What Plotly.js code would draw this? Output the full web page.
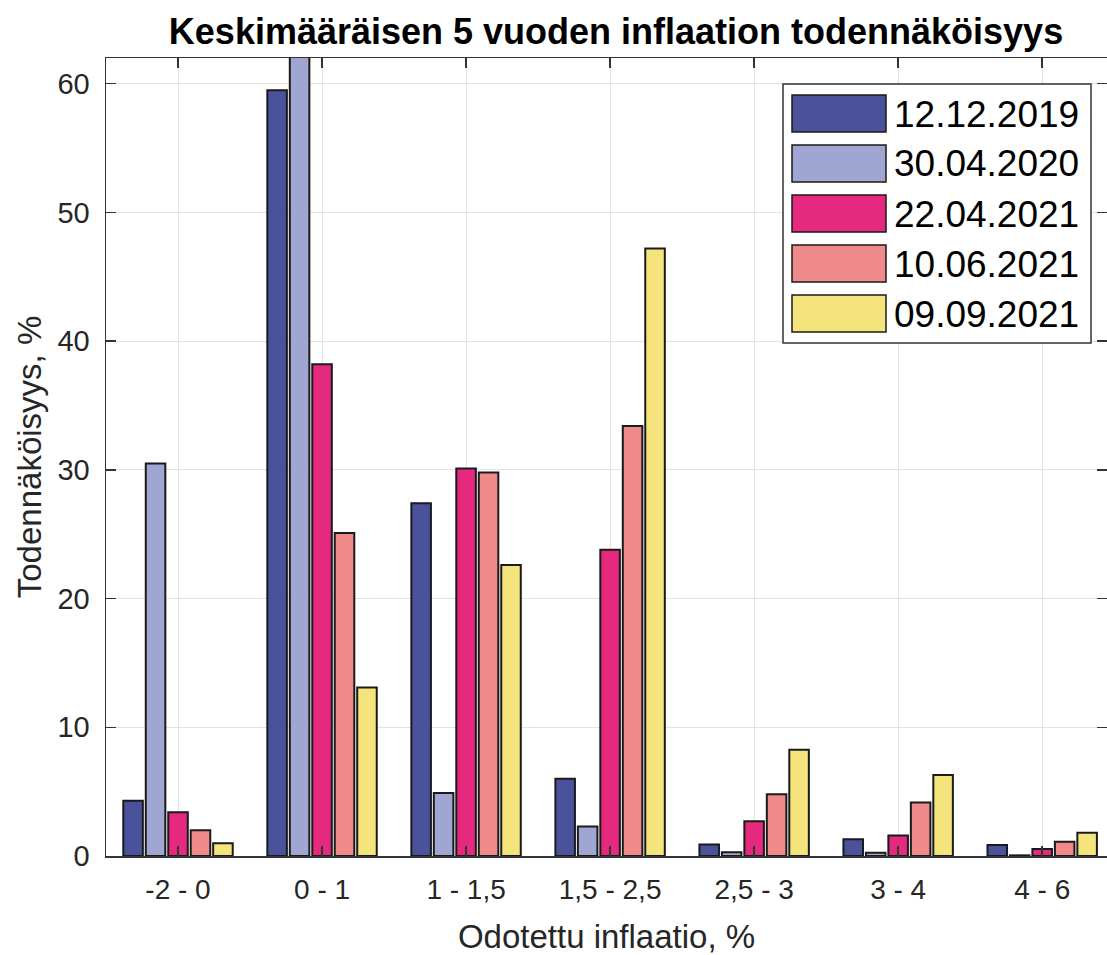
<!DOCTYPE html>
<html>
<head>
<meta charset="utf-8">
<script src="https://cdn.plot.ly/plotly-3.0.1.min.js"></script>
<style>html,body{margin:0;padding:0;background:#fff;}#chart{width:1107px;height:955px;}</style>
</head>
<body>
<div id="chart"></div>
<script>
// Categories (expected inflation ranges)
const categories = ["-2 - 0", "0 - 1", "1 - 1,5", "1,5 - 2,5", "2,5 - 3", "3 - 4", "4 - 6"];

// Survey dates (series names)
const seriesNames = ["12.12.2019", "30.04.2020", "22.04.2021", "10.06.2021", "09.09.2021"];

// Probability values, %
const s20191212 = [4.3, 59.5, 27.4, 6.0, 0.9, 1.3, 0.85];
const s20200430 = [30.5, 63.0, 4.9, 2.3, 0.3, 0.25, 0.05];
const s20210422 = [3.4, 38.2, 30.1, 23.8, 2.7, 1.6, 0.55];
const s20210610 = [2.0, 25.1, 29.8, 33.4, 4.8, 4.15, 1.1];
const s20210909 = [1.0, 13.1, 22.6, 47.2, 8.25, 6.3, 1.8];

const seriesValues = [s20191212, s20200430, s20210422, s20210610, s20210909];
const seriesColors = ["#4a529c", "#a0a6d2", "#e5297f", "#ef8a8a", "#f4e47b"];

const FONT = "Liberation Sans, Arial, sans-serif";

const traces = seriesNames.map((name, i) => ({
  type: "bar",
  name: name,
  x: categories,
  y: seriesValues[i],
  marker: { color: seriesColors[i], line: { color: "#1a1a1a", width: 2 } },
  showlegend: false,
  hoverinfo: "x+y+name"
}));

// Custom legend (large swatches like the original), built from the series arrays
const plotL = 106, plotR = 1107, plotT = 58, plotB = 856;
const px2x = p => (p - plotL) / (plotR - plotL);
const py2y = p => 1 - (p - plotT) / (plotB - plotT);

const shapes = [{
  type: "rect", xref: "paper", yref: "paper",
  x0: px2x(783), x1: px2x(1091), y0: py2y(343), y1: py2y(84),
  fillcolor: "#ffffff", line: { color: "#333333", width: 1.5 }, layer: "above"
}];
const annotations = [];
seriesNames.forEach((name, i) => {
  const top = 95 + 50 * i;
  shapes.push({
    type: "rect", xref: "paper", yref: "paper",
    x0: px2x(792), x1: px2x(886), y0: py2y(top + 37), y1: py2y(top),
    fillcolor: seriesColors[i], line: { color: "#1a1a1a", width: 1.5 }, layer: "above"
  });
  annotations.push({
    xref: "paper", yref: "paper",
    x: px2x(892), y: py2y(top + 19),
    xanchor: "left", yanchor: "middle",
    text: name, showarrow: false,
    font: { family: FONT, size: 37, color: "#000000" }
  });
});

const layout = {
  width: 1107, height: 955,
  margin: { l: 106, r: 0, t: 58, b: 99, pad: 0 },
  paper_bgcolor: "#ffffff",
  plot_bgcolor: "#ffffff",
  font: { family: FONT, color: "#262626" },
  title: {
    text: "<b>Keskimääräisen 5 vuoden inflaation todennäköisyys</b>",
    font: { family: FONT, size: 36, color: "#000000" },
    x: 616 / 1107, xanchor: "center",
    y: 1 - 31 / 955, yanchor: "middle"
  },
  barmode: "group",
  bargap: 0.22,
  bargroupgap: 0.13,
  xaxis: {
    type: "category",
    range: [-0.5, 6.45],
    showgrid: true, gridcolor: "#e3e3e3", gridwidth: 1,
    showline: true, linecolor: "#333333", linewidth: 1.5,
    mirror: "allticks",
    ticks: "inside", ticklen: 10, tickcolor: "#333333", tickwidth: 1.5,
    tickfont: { family: FONT, size: 28, color: "#262626" },
    ticklabelstandoff: 8,
    title: { text: "Odotettu inflaatio, %", font: { family: FONT, size: 33, color: "#262626" }, standoff: 26 },
    automargin: false,
    fixedrange: true
  },
  yaxis: {
    range: [0, 62],
    dtick: 10,
    showgrid: true, gridcolor: "#e3e3e3", gridwidth: 1,
    zeroline: false,
    showline: true, linecolor: "#333333", linewidth: 1.5,
    mirror: "allticks",
    ticks: "inside", ticklen: 10, tickcolor: "#333333", tickwidth: 1.5,
    tickfont: { family: FONT, size: 29, color: "#262626" },
    ticklabelstandoff: 9,
    title: { text: "Todennäköisyys, %", font: { family: FONT, size: 33, color: "#262626" }, standoff: 6 },
    automargin: false,
    fixedrange: true
  },
  shapes: shapes,
  annotations: annotations,
  showlegend: false
};

Plotly.newPlot("chart", traces, layout, { staticPlot: true, displayModeBar: false });
</script>
</body>
</html>
